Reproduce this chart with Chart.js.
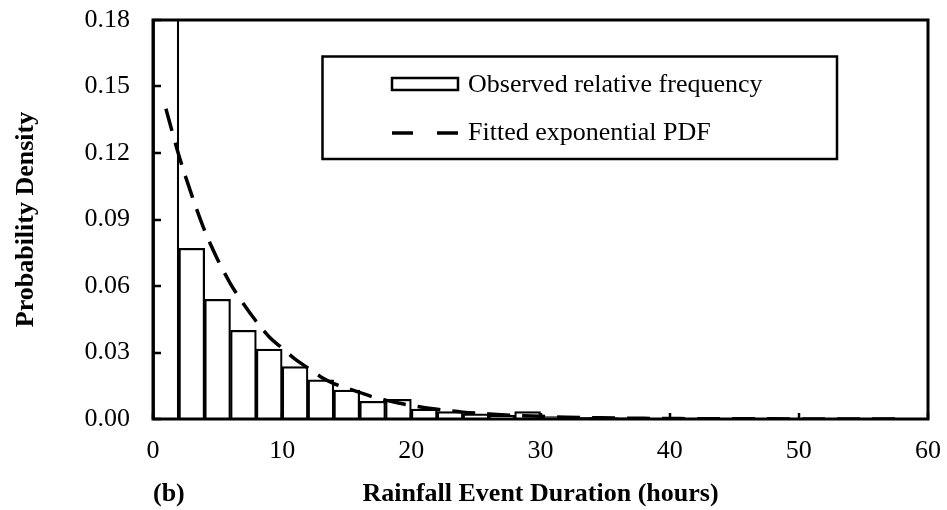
<!DOCTYPE html>
<html>
<head>
<meta charset="utf-8">
<title>Rainfall Event Duration</title>
<script src="https://cdn.jsdelivr.net/npm/chart.js@4"></script>
<style>
  body { margin: 0; background: #fff; }
  #wrap { width: 947px; height: 510px; }
</style>
</head>
<body>
<div id="wrap"><canvas id="durationChart" width="947" height="510"></canvas></div>
<script>
// Histogram bins (bin centres, 2 h wide) and observed relative frequency
const binCentres = [1, 3, 5, 7, 9, 11, 13, 15, 17, 19, 21, 23, 25, 27, 29,
  31, 33, 35, 37, 39, 41, 43, 45, 47, 49, 51, 53, 55, 57];
const observedFreq = [0.300, 0.077, 0.054, 0.040, 0.0315, 0.0236, 0.0177, 0.0130, 0.0080, 0.0089,
  0.0045, 0.0033, 0.0023, 0.0016, 0.0033, 0.0011, 0.0008, 0.0006, 0.0005, 0.0003,
  0.0004, 0.0002, 0.0002, 0.0001, 0.0001, 0.0001, 0.0001, 0.0001, 0.0001];

const pdfHours = [1, 2, 3, 4, 5, 6, 7, 8, 9, 10, 11, 12, 13, 14, 15, 16, 17, 18, 19, 20,
  22, 24, 26, 28, 30, 32, 34, 36, 38, 40, 44, 48, 52, 58];
const pdfValues = [0.140, 0.119, 0.101, 0.085, 0.072, 0.061, 0.052, 0.044, 0.037, 0.032,
  0.027, 0.023, 0.019, 0.016, 0.014, 0.012, 0.010, 0.0085, 0.0072, 0.0061,
  0.0044, 0.0031, 0.0023, 0.0016, 0.0012, 0.0008, 0.0006, 0.0004, 0.0003, 0.0002,
  0.0001, 0.00006, 0.00003, 0.00001];

// Axis ticks
const xTicks = [0, 10, 20, 30, 40, 50, 60];
const yTicks = [0, 0.03, 0.06, 0.09, 0.12, 0.15, 0.18];

const serif = "'Liberation Serif', 'Times New Roman', serif";
Chart.defaults.font.family = serif;
Chart.defaults.color = "#000";

// Box around the plot, inward tick marks, boxed legend and panel letter
const framePlugin = {
  id: "frame",
  afterDraw(chart) {
    const ctx = chart.ctx;
    const a = chart.chartArea;
    const xs = chart.scales.x;
    const ys = chart.scales.y;
    ctx.save();
    ctx.strokeStyle = "#000";
    ctx.lineWidth = 3;
    ctx.strokeRect(a.left, a.top, a.right - a.left, a.bottom - a.top);

    ctx.lineWidth = 2.5;
    ctx.beginPath();
    yTicks.forEach(v => {
      const y = Math.round(ys.getPixelForValue(v));
      ctx.moveTo(a.left, y);
      ctx.lineTo(a.left + 8, y);
    });
    xTicks.forEach(v => {
      const x = Math.round(xs.getPixelForValue(v));
      ctx.moveTo(x, a.bottom);
      ctx.lineTo(x, a.bottom - 6);
    });
    ctx.stroke();

    // legend
    const [pdfSet, barSet] = chart.data.datasets;
    ctx.lineWidth = 2.5;
    ctx.strokeRect(322.5, 56.5, 514.5, 102.5);
    ctx.fillStyle = "#fff";
    ctx.lineWidth = 2.5;
    ctx.fillRect(392, 78, 66, 12);
    ctx.strokeRect(392, 78, 66, 12);
    ctx.beginPath();
    ctx.lineWidth = 3.5;
    ctx.setLineDash([21, 24]);
    ctx.moveTo(392, 133);
    ctx.lineTo(458, 133);
    ctx.stroke();
    ctx.setLineDash([]);

    ctx.fillStyle = "#000";
    ctx.font = "26px " + serif;
    ctx.textAlign = "left";
    ctx.textBaseline = "middle";
    ctx.fillText(barSet.label, 468, 85);
    ctx.fillText(pdfSet.label, 468, 133);

    ctx.font = "bold 26px " + serif;
    ctx.fillText("(b)", 153, 494);
    ctx.restore();
  }
};

const ctx = document.getElementById("durationChart").getContext("2d");
const durationChart = new Chart(ctx, {
  type: "bar",
  data: {
    datasets: [
      {
        type: "line",
        label: "Fitted exponential PDF",
        data: pdfHours.map((h, i) => ({ x: h, y: pdfValues[i] })),
        borderColor: "#000",
        borderWidth: 3.5,
        borderDash: [23, 12],
        pointRadius: 0,
        cubicInterpolationMode: "monotone",
        fill: false,
        order: 0,
      },
      {
        type: "bar",
        label: "Observed relative frequency",
        data: binCentres.map((c, i) => ({ x: c, y: observedFreq[i] })),
        backgroundColor: "#fff",
        borderColor: "#000",
        borderWidth: 2.2,
        barPercentage: 1,
        categoryPercentage: 1,
        clip: 0,
        order: 1,
      },
    ],
  },
  options: {
    responsive: false,
    animation: false,
    layout: { padding: { top: 20, right: 19, left: 0, bottom: 0 } },
    plugins: {
      legend: { display: false },
      tooltip: { enabled: false },
    },
    scales: {
      x: {
        type: "linear",
        min: 0,
        max: 60,
        offset: false,
        grid: { display: false, offset: false },
        border: { display: false },
        ticks: { font: { size: 26 }, padding: 9, maxRotation: 0 },
        afterBuildTicks: scale => { scale.ticks = xTicks.map(v => ({ value: v })); },
        afterFit: scale => {
          scale.height = 91;
          scale.paddingLeft = 0;
          scale.paddingRight = 0;
        },
        title: {
          display: true,
          text: "Rainfall Event Duration (hours)",
          font: { size: 26, weight: "bold" },
          padding: { top: 0, bottom: 0 },
        },
      },
      y: {
        min: 0,
        max: 0.18,
        grid: { display: false },
        border: { display: false },
        ticks: { font: { size: 26 }, padding: 15, callback: v => v.toFixed(2) },
        afterBuildTicks: scale => { scale.ticks = yTicks.map(v => ({ value: v })); },
        afterFit: scale => {
          scale.width = 153;
          scale.paddingTop = 0;
          scale.paddingBottom = 0;
        },
        title: {
          display: true,
          text: "Probability Density",
          font: { size: 26, weight: "bold" },
          padding: { top: 11, bottom: 0 },
        },
      },
    },
  },
  plugins: [framePlugin],
});
</script>
</body>
</html>
